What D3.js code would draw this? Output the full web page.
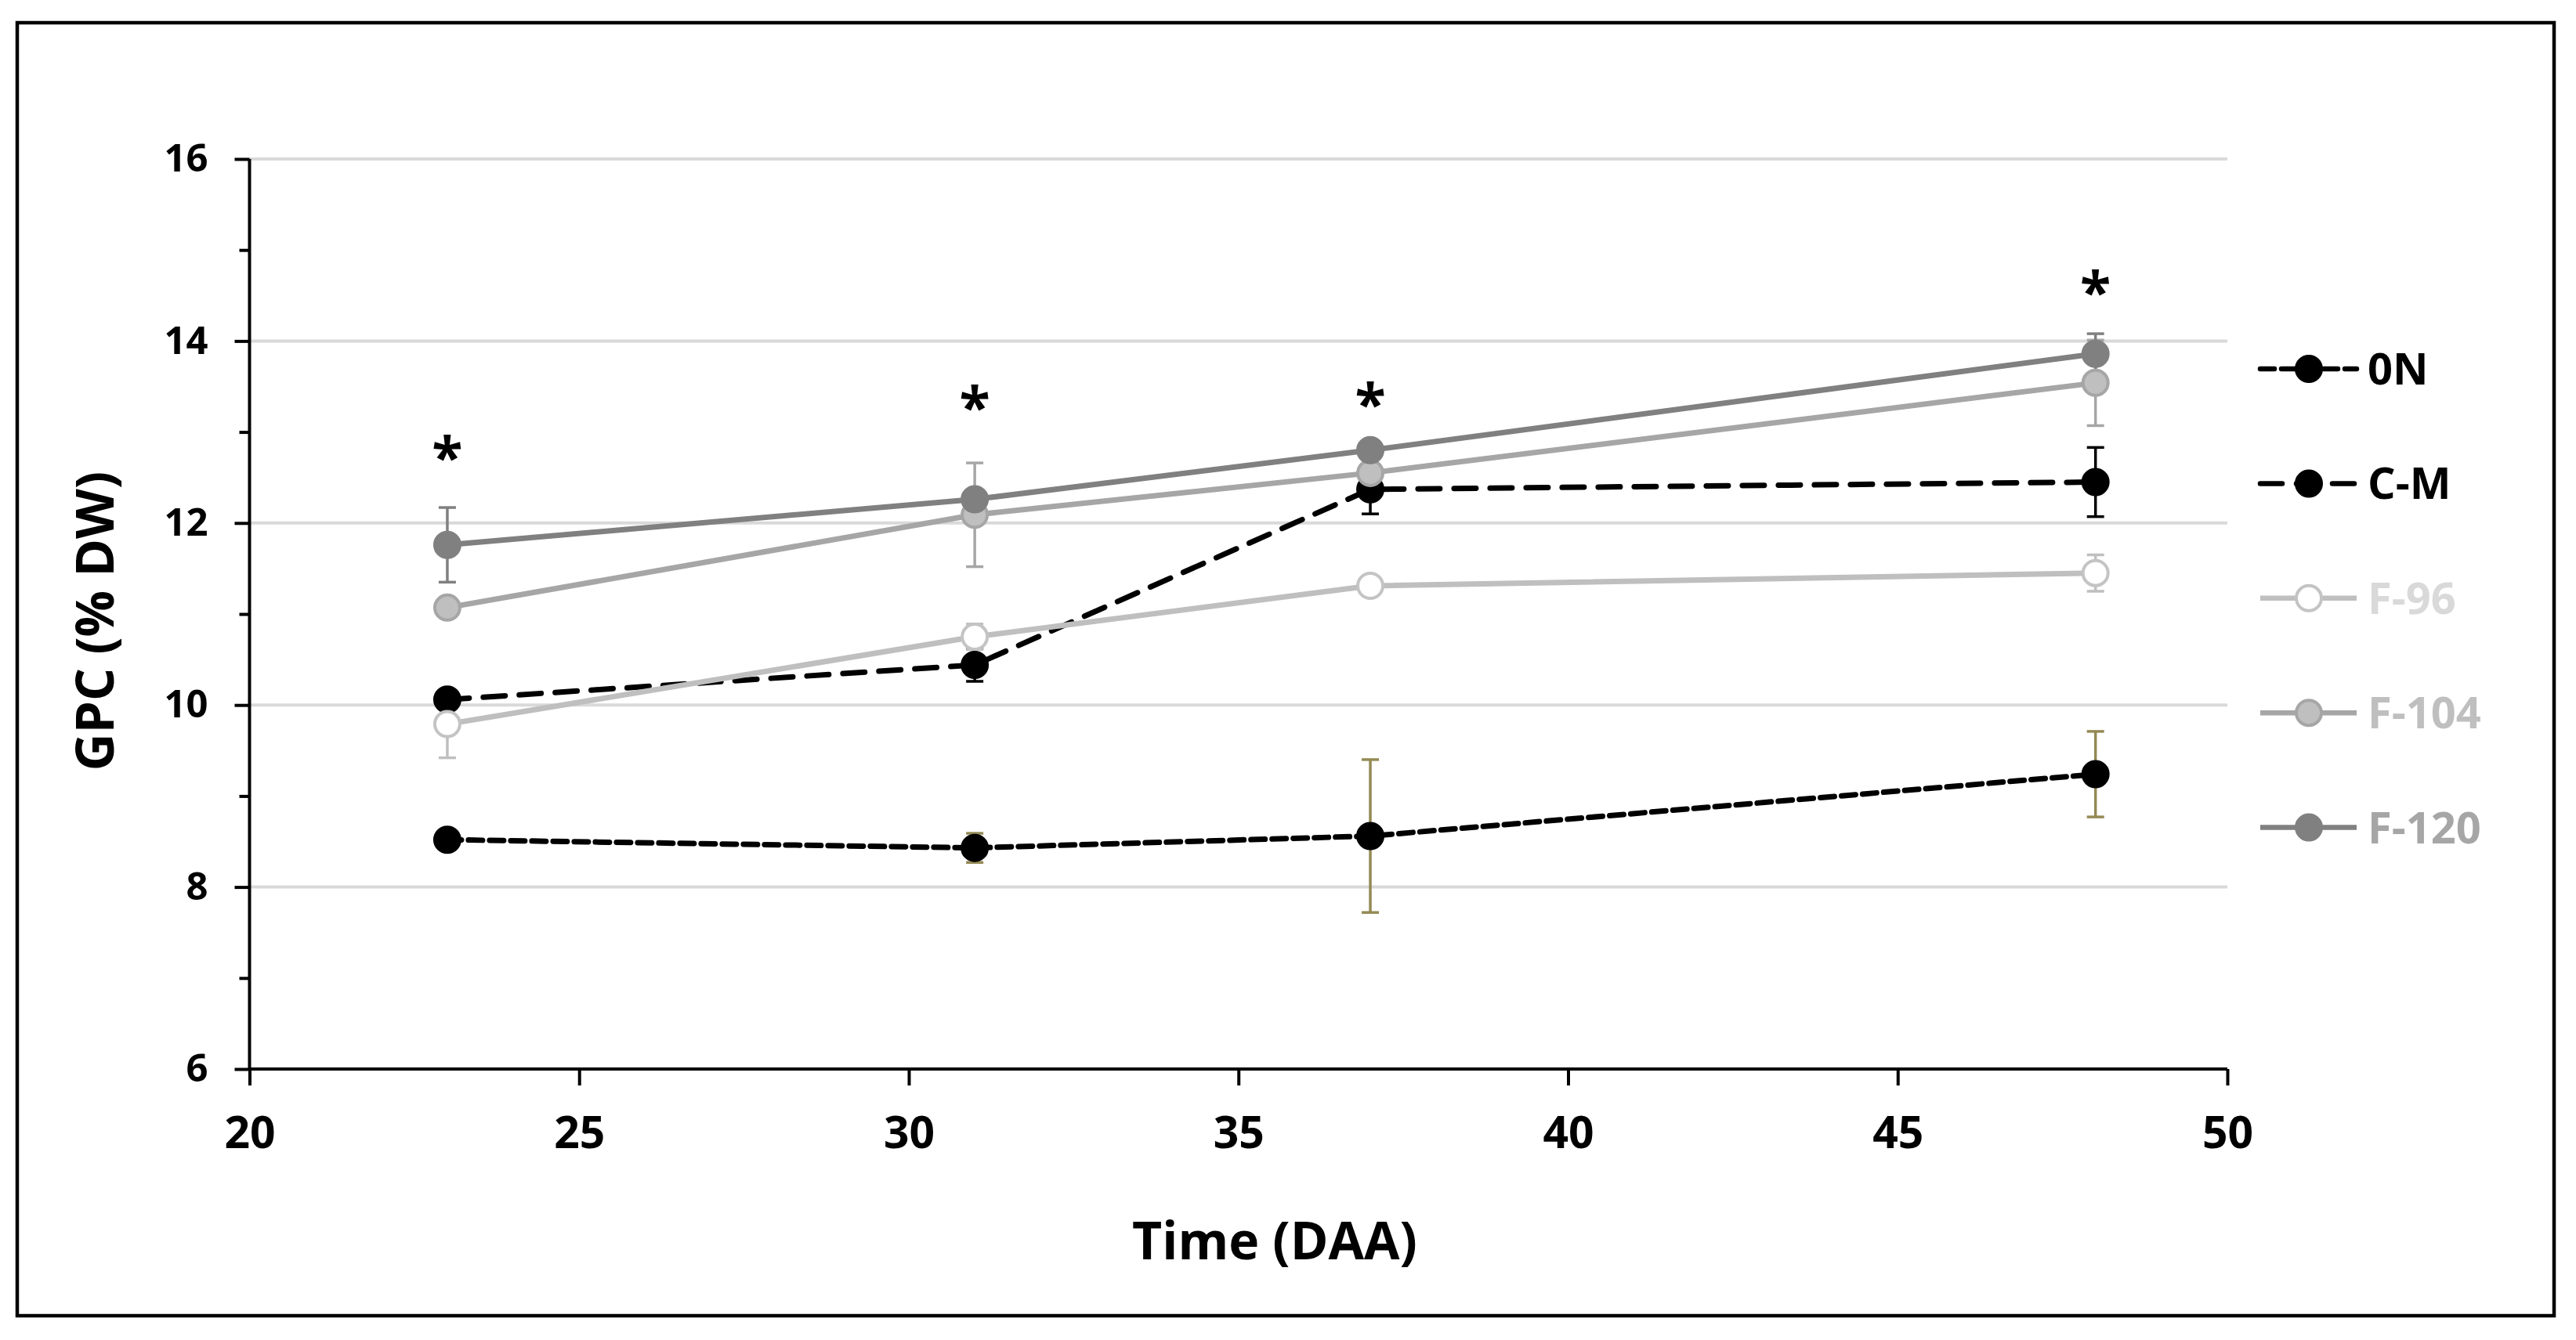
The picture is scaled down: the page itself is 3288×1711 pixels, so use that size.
<!DOCTYPE html>
<html><head><meta charset="utf-8">
<script src="https://cdn.jsdelivr.net/npm/d3@7"></script>
<style>
body{margin:0;background:#fff}
svg{display:block}
text{font-family:'Open Sans',sans-serif;font-weight:700}
</style>
</head><body>
<svg id="chart" width="3288" height="1711"></svg>
<script>
// ---------- data ----------
const days = [23, 31, 37, 48];
const seriesNames = ["0N", "C-M", "F-96", "F-104", "F-120"];
const gpc0N   = [8.52, 8.43, 8.56, 9.24];
const err0N   = [0.10, 0.16, 0.84, 0.47];
const gpcCM   = [10.06, 10.44, 12.37, 12.45];
const errCM   = [0.10, 0.18, 0.27, 0.38];
const gpcF96  = [9.79, 10.75, 11.31, 11.45];
const errF96  = [0.37, 0.14, 0.10, 0.20];
const gpcF104 = [11.07, 12.09, 12.55, 13.54];
const errF104 = [0.10, 0.57, 0.12, 0.47];
const gpcF120 = [11.76, 12.26, 12.80, 13.86];
const errF120 = [0.41, 0.10, 0.10, 0.22];
const xTicks = [20, 25, 30, 35, 40, 45, 50];
const yTicks = [6, 8, 10, 12, 14, 16];
const yMinorTicks = [7, 9, 11, 13, 15];
const starDays = [23, 31, 37, 48];
const starLevels = [12.81, 13.36, 13.39, 14.62];
const xTitle = "Time (DAA)";
const yTitle = "GPC (% DW)";

// ---------- styles ----------
const styles = {
  "0N":    {line:"#000", dash:"18 9", marker:"#000", mstroke:"#000", err:"#948a54", text:"#000"},
  "C-M":   {line:"#000", dash:"28 18", marker:"#000", mstroke:"#000", err:"#000", text:"#000"},
  "F-96":  {line:"#bfbfbf", dash:null, marker:"#fff", mstroke:"#c4c4c4", err:"#bfbfbf", text:"#d9d9d9"},
  "F-104": {line:"#a6a6a6", dash:null, marker:"#bfbfbf", mstroke:"#a6a6a6", err:"#a6a6a6", text:"#bfbfbf"},
  "F-120": {line:"#808080", dash:null, marker:"#808080", mstroke:"#808080", err:"#808080", text:"#a6a6a6"}
};

const values = [gpc0N, gpcCM, gpcF96, gpcF104, gpcF120];
const errors = [err0N, errCM, errF96, errF104, errF120];
const series = seriesNames.map((name, i) => ({
  name,
  points: days.map((d, j) => ({day: d, v: values[i][j], e: errors[i][j]}))
}));

const svg = d3.select("#chart");
svg.append("rect").attr("width", 3288).attr("height", 1711).attr("fill", "#fff");
// outer border
svg.append("rect").attr("x", 22).attr("y", 29).attr("width", 3238).attr("height", 1651)
  .attr("fill", "none").attr("stroke", "#000").attr("stroke-width", 4.5);

const x = d3.scaleLinear().domain([20, 50]).range([318.5, 2843]);
const y = d3.scaleLinear().domain([6, 16]).range([1365, 203]);

// gridlines
svg.append("g").selectAll("line").data(yTicks.filter(t => t > 6)).join("line")
  .attr("x1", x(20)).attr("x2", x(50)).attr("y1", d => y(d)).attr("y2", d => y(d))
  .attr("stroke", "#d9d9d9").attr("stroke-width", 4);

// y axis (major)
const yAxis = svg.append("g").attr("transform", `translate(${x(20)},0)`)
  .call(d3.axisLeft(y).tickValues(yTicks).tickSize(19).tickPadding(34).tickFormat(d3.format("d")));
yAxis.select(".domain").attr("stroke", "#000").attr("stroke-width", 4).attr("d", `M0,${y(6)}V${y(16)}`);
yAxis.selectAll(".tick line").attr("stroke", "#000").attr("stroke-width", 4);
yAxis.selectAll(".tick text").attr("font-size", 49).attr("fill", "#000")
  .attr("font-family", "'Open Sans',sans-serif").attr("font-weight", 700);
// y minor ticks
const yMinor = svg.append("g").attr("transform", `translate(${x(20)},0)`)
  .call(d3.axisLeft(y).tickValues(yMinorTicks).tickSize(13).tickFormat(""));
yMinor.select(".domain").remove();
yMinor.selectAll(".tick line").attr("stroke", "#000").attr("stroke-width", 4);

// x axis
const xAxis = svg.append("g").attr("transform", `translate(0,${y(6)})`)
  .call(d3.axisBottom(x).tickValues(xTicks).tickSize(21).tickPadding(40).tickFormat(d3.format("d")));
xAxis.select(".domain").attr("stroke", "#000").attr("stroke-width", 4).attr("d", `M${x(20)},0H${x(50)}`);
xAxis.selectAll(".tick line").attr("stroke", "#000").attr("stroke-width", 4);
xAxis.selectAll(".tick text").attr("font-size", 57).attr("fill", "#000")
  .attr("font-family", "'Open Sans',sans-serif").attr("font-weight", 700);

// axis titles
svg.append("text").attr("x", 1627).attr("y", 1608).attr("text-anchor", "middle")
  .attr("font-size", 66).attr("fill", "#000").text(xTitle);
svg.append("text").attr("transform", "translate(145,793) rotate(-90)").attr("text-anchor", "middle")
  .attr("font-size", 66).attr("fill", "#000").text(yTitle);

// error bars (drawn beneath lines/markers)
const errG = svg.append("g");
series.forEach(s => {
  const st = styles[s.name];
  const g = errG.append("g").attr("stroke", st.err).attr("stroke-width", 3.5);
  s.points.forEach(p => {
    const cx = x(p.day), y1 = y(p.v + p.e), y2 = y(p.v - p.e);
    g.append("line").attr("x1", cx).attr("x2", cx).attr("y1", y1).attr("y2", y2);
    g.append("line").attr("x1", cx - 11).attr("x2", cx + 11).attr("y1", y1).attr("y2", y1);
    g.append("line").attr("x1", cx - 11).attr("x2", cx + 11).attr("y1", y2).attr("y2", y2);
  });
});

// lines + markers
const line = d3.line().x(d => x(d.day)).y(d => y(d.v));
series.forEach(s => {
  const st = styles[s.name];
  svg.append("path").datum(s.points).attr("d", line).attr("fill", "none")
    .attr("stroke", st.line).attr("stroke-width", 7)
    .attr("stroke-dasharray", st.dash).attr("stroke-linecap", st.dash ? "round" : "butt");
});
series.forEach(s => {
  const st = styles[s.name];
  svg.append("g").selectAll("circle").data(s.points).join("circle")
    .attr("cx", d => x(d.day)).attr("cy", d => y(d.v)).attr("r", 16)
    .attr("fill", st.marker).attr("stroke", st.mstroke).attr("stroke-width", 4);
});

// significance stars
svg.append("g").selectAll("text").data(starDays.map((d, i) => ({d, l: starLevels[i]}))).join("text")
  .attr("x", p => x(p.d)).attr("y", p => y(p.l) + 36).attr("text-anchor", "middle")
  .attr("font-size", 72).attr("fill", "#000").text("*");

// legend
const legend = svg.append("g");
seriesNames.forEach((name, i) => {
  const st = styles[name];
  const ly = 471 + i * 146.4;
  const g = legend.append("g").attr("transform", `translate(0,${ly})`);
  g.append("line").attr("x1", 2885).attr("x2", 3008).attr("y1", 0).attr("y2", 0)
    .attr("stroke", st.line).attr("stroke-width", 6.5)
    .attr("stroke-dasharray", st.dash).attr("stroke-linecap", st.dash ? "round" : "butt");
  g.append("circle").attr("cx", 2947).attr("cy", 0).attr("r", 16)
    .attr("fill", st.marker).attr("stroke", st.mstroke).attr("stroke-width", 4);
  g.append("text").attr("x", 3022).attr("y", 20).attr("font-size", 56).attr("fill", st.text).text(name);
});
</script>
</body></html>
